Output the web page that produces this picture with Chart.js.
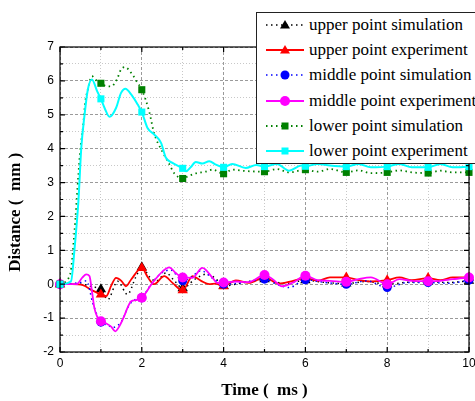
<!DOCTYPE html>
<html>
<head>
<meta charset="utf-8">
<script src="https://cdn.jsdelivr.net/npm/chart.js@4.4.1/dist/chart.umd.min.js"></script>
<style>
    body { margin: 0; background: #fff; overflow: hidden; }
    #wrap { position: relative; width: 475px; height: 401px; }
    #legend {
        position: absolute; left: 256px; top: 12px; width: 240px; height: 150px;
        background: #fff; border: 1px solid #222;
        font-family: "Liberation Serif", "Times New Roman", serif; font-size: 17px; color: #000;
    }
    .row { position: absolute; left: 0; height: 20px; display: flex; align-items: center; }
    .row svg { margin-left: 9px; margin-right: 5px; }
</style>
</head>
<body>
<div id="wrap">
    <canvas id="myChart" width="475" height="401"></canvas>
    <div id="legend"></div>
</div>
<script>
// time (ms) / distance (mm)
const upperSimT = [0, 0.5, 0.8, 1, 1.17, 1.41, 1.65, 1.85, 2, 2.2, 2.35, 2.59, 2.8, 3, 3.3, 3.6, 3.8, 4, 4.5, 5, 5.5, 6, 6.5, 7, 7.5, 8, 8.5, 9, 9.5, 10];
const upperSimY = [0, 0, -0.08, -0.15, -0.45, 0.09, -0.3, 0.2, 0.5, 0.2, 0.09, 0.33, 0.1, -0.12, 0.15, 0.3, 0.17, -0.05, 0.05, 0.15, 0.02, 0.12, 0.05, 0.02, 0.08, 0.0, 0.06, 0.08, 0.05, 0.1];

const upperExpT = [0, 0.3, 0.56, 0.8, 1, 1.13, 1.25, 1.37, 1.5, 1.61, 1.74, 2, 2.15, 2.3, 2.55, 2.75, 3, 3.24, 3.45, 3.65, 3.8, 4, 4.3, 4.62, 5, 5.35, 5.7, 6, 6.3, 6.6, 7, 7.3, 7.6, 8, 8.3, 8.6, 9, 9.3, 9.6, 10];
const upperExpY = [0, 0, -0.03, -0.19, -0.3, -0.35, -0.05, 0.19, 0.1, -0.06, 0.14, 0.48, 0.2, 0, 0.24, 0.04, -0.18, 0.24, 0.1, 0, 0.02, -0.06, 0.11, 0.04, 0.2, 0.02, 0.1, 0.18, 0.1, 0.2, 0.2, 0.12, 0.08, 0.12, 0.2, 0.12, 0.18, 0.12, 0.2, 0.2];

const middleSimT = [0, 0.5, 0.65, 0.8, 1, 1.15, 1.3, 1.5, 1.7, 1.85, 2, 2.2, 2.45, 2.7, 3, 3.2, 3.45, 3.7, 4, 4.5, 5, 5.3, 5.6, 6, 6.5, 7, 7.5, 8, 8.5, 9, 9.5, 10];
const middleSimY = [0, 0.05, 0.1, -0.55, -1.12, -1.2, -1.27, -1.1, -0.6, -0.45, -0.4, -0.05, 0.3, 0.42, 0.1, 0.2, 0.4, 0.2, 0.0, 0.05, 0.15, 0.0, -0.1, 0.13, 0.05, 0.0, 0.1, -0.1, 0.05, 0.05, 0.03, 0.12];

const middleExpT = [0, 0.4, 0.55, 0.64, 0.72, 0.78, 0.84, 0.92, 1, 1.12, 1.25, 1.35, 1.47, 1.57, 1.65, 1.74, 1.85, 2, 2.26, 2.51, 2.67, 2.83, 3, 3.24, 3.48, 3.73, 3.85, 4, 4.3, 4.6, 5, 5.2, 5.43, 5.7, 6, 6.3, 6.6, 7, 7.3, 7.6, 8, 8.3, 8.6, 9, 9.3, 9.6, 10];
const middleExpY = [0, 0, 0.2, 0.29, 0.24, -0.2, -0.7, -0.99, -1.09, -1.15, -1.25, -1.39, -1.2, -0.94, -0.7, -0.5, -0.47, -0.4, 0.04, 0.38, 0.5, 0.33, 0.2, 0.19, 0.48, 0.19, 0.04, 0.05, 0.08, 0.06, 0.27, 0.15, -0.06, 0.05, 0.25, 0.12, 0.1, 0.07, 0.15, 0.2, 0.0, 0.15, 0.1, 0.09, 0.1, 0.15, 0.2];

const lowerSimT = [0, 0.25, 0.35, 0.45, 0.5, 0.56, 0.62, 0.68, 0.78, 0.9, 1, 1.12, 1.25, 1.39, 1.49, 1.58, 1.78, 1.88, 2, 2.18, 2.3, 2.5, 2.67, 2.79, 3, 3.15, 3.32, 3.55, 3.73, 4, 4.21, 4.54, 5, 5.3, 5.6, 6, 6.3, 6.6, 7, 7.3, 7.6, 8, 8.3, 8.6, 9, 9.3, 9.6, 10];
const lowerSimY = [0, 0.3, 1.5, 3.24, 4.02, 4.6, 5.4, 5.74, 6.14, 6.0, 5.93, 5.85, 5.84, 6.04, 6.33, 6.41, 6.17, 5.97, 5.74, 5.1, 4.46, 3.92, 3.55, 3.28, 3.12, 3.2, 3.27, 3.32, 3.38, 3.26, 3.38, 3.34, 3.32, 3.4, 3.3, 3.38, 3.32, 3.4, 3.3, 3.36, 3.28, 3.3, 3.36, 3.3, 3.28, 3.35, 3.3, 3.3];

const lowerExpT = [0, 0.27, 0.35, 0.45, 0.52, 0.6, 0.68, 0.78, 0.91, 1, 1.09, 1.21, 1.37, 1.49, 1.6, 1.74, 1.9, 2, 2.14, 2.3, 2.47, 2.59, 2.75, 2.91, 3, 3.08, 3.2, 3.32, 3.48, 3.65, 3.81, 4, 4.21, 4.54, 4.8, 5, 5.3, 5.6, 5.9, 6, 6.3, 6.6, 7, 7.3, 7.6, 8, 8.3, 8.6, 9, 9.3, 9.6, 10];
const lowerExpY = [0, 0.09, 0.97, 2.45, 4.02, 5.0, 5.74, 6.04, 5.69, 5.47, 5.2, 4.94, 5.2, 5.64, 5.77, 5.6, 5.3, 5.08, 4.61, 4.42, 4.17, 3.73, 3.58, 3.48, 3.42, 3.33, 3.46, 3.61, 3.56, 3.63, 3.53, 3.45, 3.55, 3.43, 3.52, 3.47, 3.55, 3.35, 3.5, 3.48, 3.55, 3.5, 3.47, 3.55, 3.45, 3.47, 3.55, 3.45, 3.45, 3.55, 3.45, 3.47];

const labels = ['upper point simulation', 'upper point experiment', 'middle point simulation',
    'middle point experiment', 'lower point simulation', 'lower point experiment'];

const series = [
    { t: upperSimT, y: upperSimY, color: '#000000', dash: [1.5, 3.5], width: 1.5, marker: 'triangle', r: 6 },
    { t: upperExpT, y: upperExpY, color: '#ff0000', dash: [], width: 1.8, marker: 'triangle', r: 6 },
    { t: middleSimT, y: middleSimY, color: '#0000ff', dash: [1.5, 3.5], width: 1.5, marker: 'circle', r: 4.5 },
    { t: middleExpT, y: middleExpY, color: '#ff00ff', dash: [], width: 1.8, marker: 'circle', r: 5 },
    { t: lowerSimT, y: lowerSimY, color: '#008000', dash: [1.5, 3.5], width: 1.8, marker: 'rect', r: 5 },
    { t: lowerExpT, y: lowerExpY, color: '#00ffff', dash: [], width: 2, marker: 'rect', r: 5 }
];

const datasets = series.map((s, i) => ({
    label: labels[i],
    data: s.t.map((t, k) => ({ x: t, y: s.y[k] })),
    borderColor: s.color,
    backgroundColor: s.color,
    borderWidth: s.width,
    borderDash: s.dash,
    cubicInterpolationMode: 'monotone',
    pointStyle: s.marker,
    pointRadius: ctx => Number.isInteger(ctx.raw.x) ? s.r : 0,
    pointBackgroundColor: s.color,
    pointBorderColor: s.color,
    pointBorderWidth: 0,
    clip: 8,
    order: 5 - i
}));

// frame round the plot area with inward ticks
const frame = {
    id: 'frame',
    afterDraw(chart) {
        const { ctx, chartArea: a, scales } = chart;
        ctx.save();
        ctx.strokeStyle = '#000';
        ctx.lineWidth = 1.2;
        ctx.strokeRect(a.left, a.top, a.right - a.left, a.bottom - a.top);
        ctx.beginPath();
        for (let v = -2; v <= 7; v += 0.5) {
            const p = scales.y.getPixelForValue(v);
            const len = Number.isInteger(v) ? 5 : 3;
            ctx.moveTo(a.left, p); ctx.lineTo(a.left + len, p);
            ctx.moveTo(a.right, p); ctx.lineTo(a.right - len, p);
        }
        for (let v = 0; v <= 10; v++) {
            const p = scales.x.getPixelForValue(v);
            const len = v % 2 === 0 ? 5 : 3;
            ctx.moveTo(p, a.bottom); ctx.lineTo(p, a.bottom - len);
            ctx.moveTo(p, a.top); ctx.lineTo(p, a.top + len);
        }
        ctx.stroke();
        ctx.restore();
    }
};

const tickFont = { family: '"Liberation Sans", Arial, sans-serif', size: 12 };
const titleFont = { family: '"Liberation Serif", "Times New Roman", serif', size: 17, weight: 'bold', lineHeight: 1.2 };

new Chart(document.getElementById('myChart'), {
    type: 'line',
    data: { datasets: datasets },
    plugins: [frame],
    options: {
        responsive: false,
        animation: false,
        layout: { padding: { left: 0, right: 5, top: 47, bottom: 0 } },
        plugins: { legend: { display: false }, tooltip: { enabled: false } },
        scales: {
            x: {
                type: 'linear', min: 0, max: 10,
                ticks: {
                    stepSize: 1, autoSkip: false, maxRotation: 0, padding: 4,
                    color: '#000', font: tickFont,
                    callback: v => v % 2 === 0 ? v : ''
                },
                grid: {
                    drawTicks: false,
                    color: ctx => (ctx.tick && ctx.tick.value % 2 === 0) ? '#9a9a9a' : '#c8c8c8',
                    lineWidth: 1
                },
                border: { display: false, dash: ctx => (ctx.tick && ctx.tick.value % 2 === 0) ? [3, 2] : [1, 2] },
                title: { display: true, text: 'Time (  ms )', color: '#000', font: titleFont, padding: { top: 0, bottom: 0 } },
                afterFit: s => { s.height = 49; s.paddingLeft = 0; s.paddingRight = 0; }
            },
            y: {
                type: 'linear', min: -2, max: 7,
                ticks: {
                    stepSize: 0.5, autoSkip: false, padding: 6,
                    color: '#000', font: tickFont,
                    callback: v => Number.isInteger(v) ? v : ''
                },
                grid: {
                    drawTicks: false,
                    color: ctx => (ctx.tick && Number.isInteger(ctx.tick.value)) ? '#9a9a9a' : '#c8c8c8',
                    lineWidth: 1
                },
                border: { display: false, dash: ctx => (ctx.tick && Number.isInteger(ctx.tick.value)) ? [3, 2] : [1, 2] },
                title: { display: true, text: 'Distance (  mm )      ', color: '#000', font: titleFont, padding: { top: 5, bottom: 0 } },
                afterFit: s => { s.width = 60; }
            }
        }
    }
});

// legend: line sample with its marker, then the label
const legend = document.getElementById('legend');
series.forEach((s, i) => {
    const row = document.createElement('div');
    row.className = 'row';
    row.style.top = (2 + i * 25.2) + 'px';
    let mark;
    if (s.marker === 'triangle') mark = '<polygon points="19,1 24,9.5 14,9.5" fill="' + s.color + '"/>';
    else if (s.marker === 'circle') mark = '<circle cx="19" cy="6" r="' + s.r + '" fill="' + s.color + '"/>';
    else mark = '<rect x="15.5" y="2.5" width="7" height="7" fill="' + s.color + '"/>';
    const dash = s.dash.length ? ' stroke-dasharray="1.5 3.5"' : '';
    row.innerHTML = '<svg width="38" height="12"><line x1="0" y1="6" x2="38" y2="6" stroke="' + s.color +
        '" stroke-width="' + s.width + '"' + dash + '/>' + mark + '</svg><span>' + labels[i] + '</span>';
    legend.appendChild(row);
});
</script>
</body>
</html>
